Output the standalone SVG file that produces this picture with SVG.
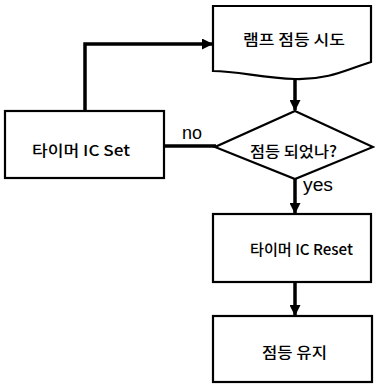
<svg xmlns="http://www.w3.org/2000/svg" width="375" height="385" viewBox="0 0 375 385">
<style>
.box{fill:#fff;stroke:#000;stroke-width:2.2}
.conn{fill:none;stroke:#000;stroke-width:3.5}
.t{font-family:"Noto Sans CJK KR","Liberation Sans",sans-serif;font-size:15px;font-weight:500;fill:#000}
.lbl{font-family:"Liberation Sans",Arial,sans-serif;font-size:18px;fill:#000}
</style>
<defs>
<marker id="ah" markerWidth="11" markerHeight="11" refX="10" refY="5.5" orient="auto" markerUnits="userSpaceOnUse">
<path d="M0,0 L11,5.5 L0,11 Z" fill="#000"/>
</marker>
</defs>
<rect width="375" height="385" fill="#fff"/>
<g id="connectors">
<polyline class="conn" points="85,111 85,44 212,44" marker-end="url(#ah)"/>
<line class="conn" x1="295" y1="79" x2="295" y2="110" marker-end="url(#ah)"/>
<line class="conn" x1="164" y1="146" x2="216" y2="146" stroke-width="4"/>
<line class="conn" x1="295" y1="179" x2="295" y2="213" marker-end="url(#ah)"/>
<line class="conn" x1="295" y1="282" x2="295" y2="315" marker-end="url(#ah)"/>
<text class="lbl" x="182" y="139" textLength="20" lengthAdjust="spacingAndGlyphs">no</text>
<text class="lbl" x="303" y="191" textLength="30" lengthAdjust="spacingAndGlyphs">yes</text>
</g>
<g id="n-try">
<path class="box" d="M213,6 H371 V62 C350,68 330,80 295,79 C262,78 238,71 213,71 Z"/>
<text class="t" x="243" y="45" textLength="102" lengthAdjust="spacingAndGlyphs">램프 점등 시도</text>
</g>
<g id="n-set">
<rect class="box" x="5" y="111" width="159" height="67"/>
<text class="t" x="32" y="155.5" textLength="98" lengthAdjust="spacingAndGlyphs">타이머 IC Set</text>
</g>
<g id="n-check">
<polygon class="box" points="295,111 373,147 295,179 215,147"/>
<text class="t" x="250" y="156.5" textLength="87" lengthAdjust="spacingAndGlyphs">점등 되었나?</text>
</g>
<g id="n-reset">
<rect class="box" x="213" y="214" width="158" height="68"/>
<text class="t" x="250" y="255" textLength="103" lengthAdjust="spacingAndGlyphs">타이머 IC Reset</text>
</g>
<g id="n-keep">
<rect class="box" x="213" y="316" width="159" height="66"/>
<text class="t" x="262" y="357.5" textLength="65" lengthAdjust="spacingAndGlyphs">점등 유지</text>
</g>
</svg>
